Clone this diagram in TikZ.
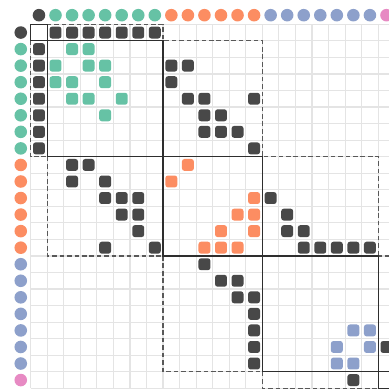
\documentclass[tikz,border=0pt]{standalone}
\usepackage{xcolor}
\usepackage{tikz}
\definecolor{ink}{HTML}{484848}
\definecolor{mint}{HTML}{66C2A5}
\definecolor{coral}{HTML}{FC8D62}
\definecolor{lilac}{HTML}{8DA0CB}
\definecolor{rose}{HTML}{E78AC3}
\definecolor{rule}{HTML}{E4E4E4}
\definecolor{frame}{HTML}{2E2E2E}

\begin{document}
\begin{tikzpicture}[x=0.5cm,y=-0.5cm,
    cell/.style={rounded corners=2.2pt},
    block/.style={frame,line width=1.1pt},
    link/.style={frame!80,line width=1.1pt,dash pattern=on 4pt off 2.4pt}]
        \clip (-1.855,-1.468) rectangle (21.65,22.04);
        \fill[white] (-1.855,-1.468) rectangle (21.65,22.04);
        \foreach \i in {0,...,22} {
          \draw[rule,line width=1pt] (\i,0) -- (\i,22);
          \draw[rule,line width=1pt] (0,\i) -- (22,\i);
        }
        \foreach \from/\to/\col in {0/0/ink,1/7/mint,8/13/coral,14/20/lilac,21/21/rose}
          \foreach \i in {\from,...,\to} {
            \fill[\col] (\i+.5,-.55) circle (0.19cm);
            \fill[\col] (-.6,\i+.5) circle (0.19cm);
          }
        \foreach \r/\c/\col in {0/1/ink,0/2/ink,0/3/ink,0/4/ink,0/5/ink,0/6/ink,0/7/ink,
            1/2/mint,1/3/mint,2/3/mint,2/4/mint,3/4/mint,4/5/mint,
            2/8/ink,2/9/ink,3/8/ink,4/9/ink,4/10/ink,4/13/ink,5/10/ink,5/11/ink,
            6/10/ink,6/11/ink,6/12/ink,7/13/ink,
            8/9/coral,10/13/coral,11/12/coral,11/13/coral,12/13/coral,
            10/14/ink,11/15/ink,12/15/ink,12/16/ink,13/16/ink,13/17/ink,13/18/ink,13/19/ink,13/20/ink,
            18/19/lilac,18/20/lilac,19/20/lilac,19/21/ink} {
          \fill[\col,cell] (\c+.14,\r+.14) rectangle +(.72,.72);
          \fill[\col,cell] (\r+.14,\c+.14) rectangle +(.72,.72);
        }
        \foreach \xa/\ya/\xb/\yb in {1/0/8/1,0/1/1/8,8/1/14/8,1/8/8/14,14/8/21/14,8/14/14/21,21/14/22/21,14/21/21/22}
          \draw[link] (\xa,\ya) rectangle (\xb,\yb);
        \foreach \a/\b in {0/1,1/8,8/14,14/21,21/22}
          \draw[block] (\a,\a) rectangle (\b,\b);
      \end{tikzpicture}
\end{document}
